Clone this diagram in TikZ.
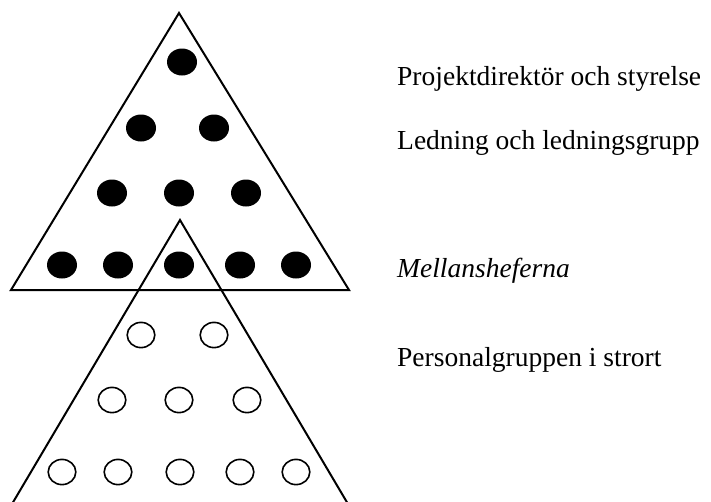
\documentclass[tikz,border=0pt]{standalone}
\usepackage{fontspec}
\setmainfont{Liberation Serif}
\begin{document}
\begin{tikzpicture}[x=1pt,y=-1pt,
  tri/.style={draw=black,line width=2pt,line join=miter},
  lbl/.style={anchor=base west,inner sep=0pt,font=\fontsize{27.5}{31}\selectfont}]
\useasboundingbox (0,0) rectangle (711,501);
\clip (0,0) rectangle (711,501);
% upper triangle
\coordinate (ua) at (179,13);
\coordinate (ul) at (11,290);
\coordinate (ur) at (349,290);
\draw[tri] (ua) -- (ul) -- (ur) -- cycle;
% lower triangle (cut by the bottom edge)
\coordinate (la) at (180,220);
\coordinate (ll) at (12,504);
\coordinate (lr) at (348,504);
\draw[tri] (ll) -- (la) -- (lr);
% filled dots
\foreach \n/\x/\y in {f1/182/62, f2/141/128, f3/214/128, f4/112/193, f5/179/193, f6/246/193,
  f7/62/265, f8/118/265, f9/179/265, f10/240/265, f11/296/265}
  \fill (\x,\y) ellipse [x radius=15, y radius=13.5] coordinate (\n);
% open circles
\foreach \n/\x/\y in {o1/141/335, o2/214/335, o3/112/400, o4/179/400, o5/247/400,
  o6/62/472, o7/118/472, o8/180/472, o9/240/472, o10/296/472}
  \draw[line width=1.6pt] (\x,\y) ellipse [x radius=13.8, y radius=12.6] coordinate (\n);
% labels
\node[lbl] (t1) at (397,85) {Projektdirektör och styrelse};
\node[lbl] (t2) at (397,149) {Ledning och ledningsgrupp};
\node[lbl] (t3) at (397,277) {\itshape Mellansheferna};
\node[lbl] (t4) at (397,366) {Personalgruppen i strort};
\end{tikzpicture}
\end{document}
